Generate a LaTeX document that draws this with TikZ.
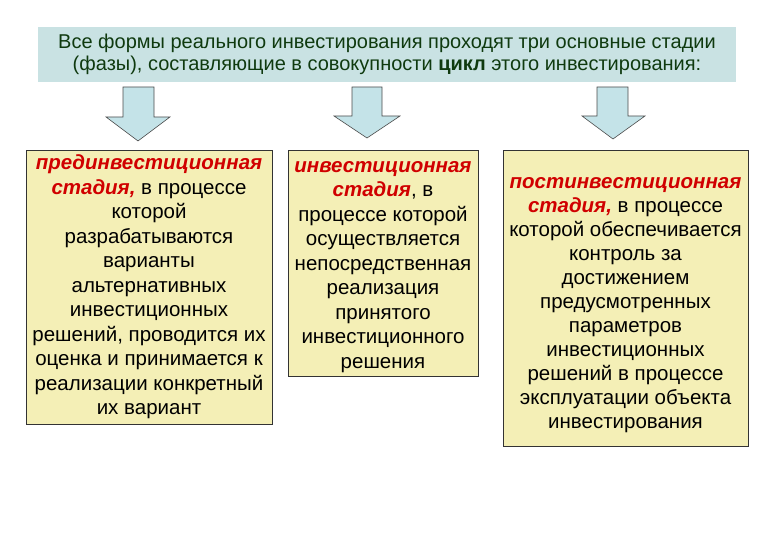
\documentclass[tikz,border=0pt]{standalone}
\usepackage{fontspec}
\setmainfont{Liberation Sans}
\definecolor{hdrfill}{HTML}{C9E2E3}
\definecolor{hdrtext}{HTML}{0F3A0F}
\definecolor{boxfill}{HTML}{F4EFB6}
\definecolor{arrfill}{HTML}{C4E3E8}
\definecolor{redterm}{HTML}{D00000}
\newcommand{\term}[1]{\textcolor{redterm}{\bfseries\itshape #1}}
\begin{document}
\begin{tikzpicture}[x=1pt,y=-1pt,
  header/.style={fill=hdrfill,draw=none,inner sep=0pt,minimum width=698pt,minimum height=55pt,
    align=center,text=hdrtext,font=\fontsize{20}{21.5}\selectfont},
  stagebox/.style={fill=boxfill,draw=black!80,line width=0.6pt,inner sep=0pt,align=center,
    font=\fontsize{20.5}{24.5}\selectfont},
  blockarrow/.style={fill=arrfill,draw=black!70,line width=0.6pt,line join=miter}]
\useasboundingbox (0,0) rectangle (780,540);
\node[header] (hdr) at (387,54.5) {Все формы реального инвестирования проходят три основные стадии\\(фазы), составляющие в совокупности \textbf{цикл} этого инвестирования:};

\node[stagebox,minimum width=246pt,minimum height=274pt] (b1) at (149,287) {\term{прединвестиционная}\\\term{стадия,} в процессе\\которой\\разрабатываются\\варианты\\альтернативных\\инвестиционных\\решений, проводится их\\оценка и принимается к\\реализации конкретный\\их вариант};
\node[stagebox,minimum width=190pt,minimum height=226pt] (b2) at (383,263) {\rule{0pt}{19pt}\term{инвестиционная}\\\term{стадия}, в\\процессе которой\\осуществляется\\непосредственная\\реализация\\принятого\\инвестиционного\\решения};
\node[stagebox,minimum width=245pt,minimum height=296pt,font=\fontsize{20.5}{24}\selectfont] (b3) at (625.5,298) {\rule{0pt}{26pt}\term{постинвестиционная}\\\term{стадия,} в процессе\\которой обеспечивается\\контроль за\\достижением\\предусмотренных\\параметров\\инвестиционных\\решений в процессе\\эксплуатации объекта\\инвестирования};

\draw[blockarrow] (123,87) -- (154,87) -- (154,117) -- (170,117) -- (138,141) -- (106,117) -- (123,117) -- cycle;
\draw[blockarrow] (352,87) -- (382,87) -- (382,116) -- (400,116) -- (367,138) -- (334,116) -- (352,116) -- cycle;
\draw[blockarrow] (597,87) -- (628,87) -- (628,116) -- (645,116) -- (613,139) -- (582,116) -- (597,116) -- cycle;
\end{tikzpicture}
\end{document}
